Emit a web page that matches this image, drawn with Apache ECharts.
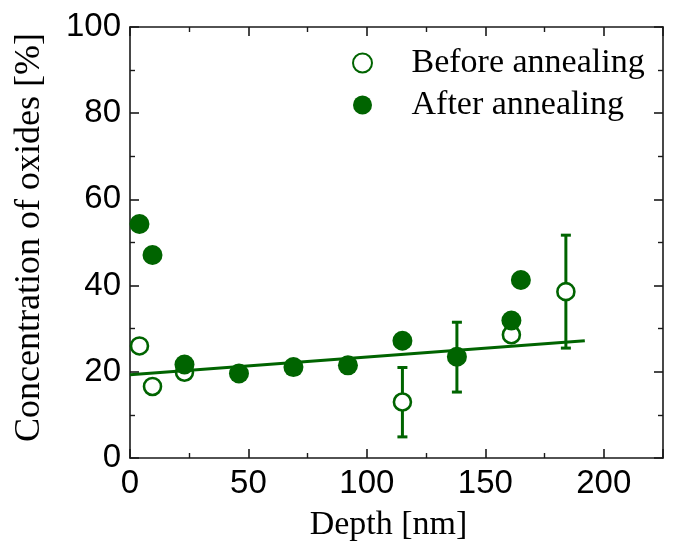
<!DOCTYPE html>
<html>
<head>
<meta charset="utf-8">
<script src="https://cdn.jsdelivr.net/npm/echarts@6/dist/echarts.min.js"></script>
<style>
  html, body { margin: 0; padding: 0; background: #fff; }
  #chart { width: 674px; height: 548px; }
</style>
</head>
<body>
<div id="chart"></div>
<script>
// depth [nm], concentration [%]
var beforeData = [[4, 26], [9.5, 16.6], [23, 19.9], [115, 13], [161, 28.6], [184, 38.6]]
var afterData = [[4, 54.3], [9.5, 47.1], [23, 21.7], [46, 19.6], [69, 21.1], [92, 21.5],
  [115, 27.2], [138, 23.5], [161, 31.9], [165, 41.3]]
// [depth, low, high]
var errorBars = [[115, 4.9, 21], [138, 15.3, 31.5], [184, 25.5, 51.7]]
var fitLine = [[0, 19.3], [192, 27.2]]

var green = '#006400'
var axisColor = '#1a1a1a'

var myChart = echarts.init(document.getElementById('chart'))

function frameAxis(pos, show) {
  return {
    type: 'value',
    position: pos,
    axisLine: { show: true, onZero: false, lineStyle: { color: axisColor, width: 1.6 } },
    axisTick: { show: true, inside: true, length: 9, lineStyle: { color: axisColor, width: 1.6 } },
    minorTick: { show: true, splitNumber: 2, length: 5, lineStyle: { color: axisColor, width: 1.4 } },
    splitLine: { show: false },
    minorSplitLine: { show: false },
    axisLabel: {
      show: show,
      fontFamily: 'Liberation Sans, Arial',
      fontSize: 33,
      color: '#000',
      margin: 9
    }
  }
}

var xBottom = frameAxis('bottom', true)
xBottom.min = 0
xBottom.max = 225
xBottom.interval = 50
xBottom.name = 'Depth [nm]'
xBottom.nameLocation = 'middle'
xBottom.nameGap = 50
xBottom.nameTextStyle = { fontFamily: 'Liberation Serif, Times New Roman', fontSize: 34, color: '#000', padding: [0, 16, 0, 0] }
xBottom.axisLabel.showMaxLabel = false

var xTop = frameAxis('top', false)
xTop.min = 0
xTop.max = 225
xTop.interval = 50

var yLeft = frameAxis('left', true)
yLeft.min = 0
yLeft.max = 100
yLeft.interval = 20
yLeft.name = 'Concentration of oxides [%]'
yLeft.nameLocation = 'middle'
yLeft.nameGap = 82
yLeft.nameTextStyle = { fontFamily: 'Liberation Serif, Times New Roman', fontSize: 36, color: '#000', padding: [0, 0, 0, 10] }

var yRight = frameAxis('right', false)
yRight.min = 0
yRight.max = 100
yRight.interval = 20

var option = {
  animation: false,
  backgroundColor: '#fff',
  grid: { left: 130, right: 11, top: 27, bottom: 90 },
  legend: {
    orient: 'vertical',
    left: 347,
    top: 41,
    itemWidth: 88,
    itemHeight: 19,
    itemGap: 8,
    data: ['Before annealing', 'After annealing'],
    textStyle: {
      fontFamily: 'Liberation Serif, Times New Roman',
      fontSize: 34,
      lineHeight: 34,
      color: '#000'
    }
  },
  xAxis: [xBottom, xTop],
  yAxis: [yLeft, yRight],
  series: [{
    name: 'error',
    type: 'custom',
    z: 1,
    data: errorBars,
    renderItem: function (params, api) {
      var lo = api.coord([api.value(0), api.value(1)])
      var hi = api.coord([api.value(0), api.value(2)])
      var cap = 5
      var st = { stroke: green, lineWidth: 3 }
      return {
        type: 'group',
        children: [
          { type: 'line', shape: { x1: lo[0], y1: lo[1], x2: hi[0], y2: hi[1] }, style: st },
          { type: 'line', shape: { x1: lo[0] - cap, y1: lo[1], x2: lo[0] + cap, y2: lo[1] }, style: st },
          { type: 'line', shape: { x1: hi[0] - cap, y1: hi[1], x2: hi[0] + cap, y2: hi[1] }, style: st }
        ]
      }
    }
  }, {
    name: 'Before annealing',
    type: 'scatter',
    z: 2,
    symbol: 'circle',
    symbolSize: 17,
    data: beforeData,
    itemStyle: { color: '#fff', borderColor: green, borderWidth: 2.6, opacity: 1 }
  }, {
    name: 'fit',
    type: 'line',
    z: 3,
    data: fitLine,
    showSymbol: false,
    symbol: 'none',
    lineStyle: { color: green, width: 3 }
  }, {
    name: 'After annealing',
    type: 'scatter',
    z: 4,
    symbol: 'circle',
    symbolSize: 20,
    data: afterData,
    itemStyle: { color: green, opacity: 1 }
  }]
}
myChart.setOption(option)
</script>
</body>
</html>
